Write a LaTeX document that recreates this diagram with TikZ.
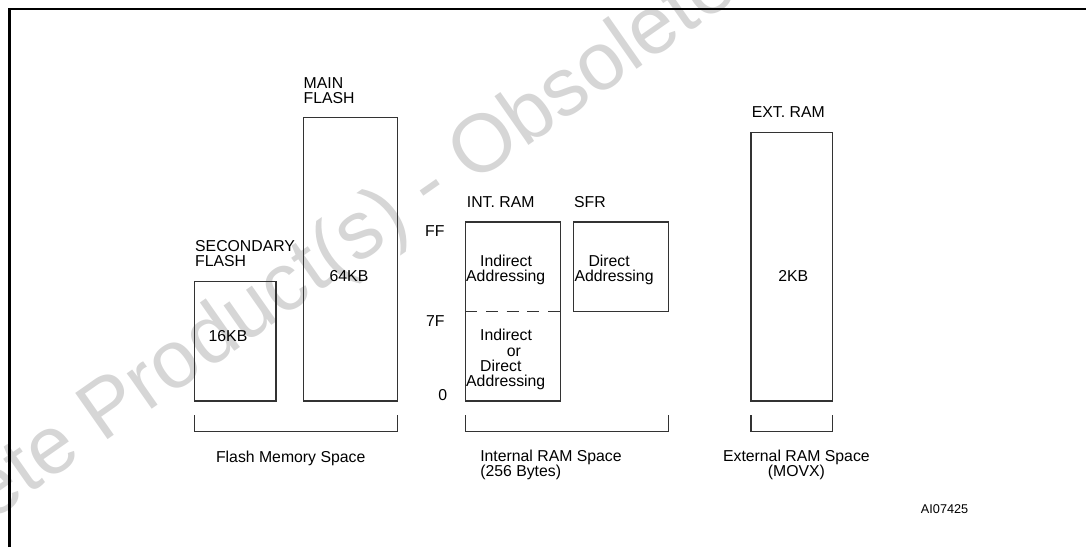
\documentclass[tikz,border=0pt]{standalone}
\usepackage{fontspec}
\setmainfont{Liberation Sans}
\usetikzlibrary{calc}
\begin{document}
\begin{tikzpicture}[x=1pt,y=-1pt,
  box/.style={draw=black!80, line width=1.2pt, inner sep=0pt, outer sep=0pt, anchor=north west},
  brk/.style={draw=black!80, line width=1.1pt},
  lbl/.style={inner sep=0pt, font=\fontsize{15.8}{15.3}\selectfont},
  wm/.style={inner sep=0pt, text=black!16, font=\fontsize{82}{82}\selectfont},
  frame/.style={line width=2.5pt}]
\useasboundingbox (0,0) rectangle (1086,547);
% watermark
\begin{scope}
\clip (0,0) rectangle (1086,547);
\node[wm, rotate=35, anchor=base west] (wmk) at (-185,645) {Obsolete Product(s) - Obsolete Product(s)};
\end{scope}
% frame
\draw[frame] (9.7,547) -- (9.7,9.2) -- (1086,9.2);
% boxes
\node[box, minimum width=81.7pt, minimum height=119.3pt] (sec) at (194.3,281.7) {};
\node[box, minimum width=94.4pt, minimum height=283.3pt] (main) at (303.3,117.7) {};
\node[box, minimum width=95.4pt, minimum height=179pt] (iram) at (465.3,222) {};
\node[box, minimum width=95pt, minimum height=89.7pt] (sfr) at (573.7,222) {};
\node[box, minimum width=81.7pt, minimum height=268.7pt] (eram) at (751,132.3) {};
\draw[draw=black!80, line width=1.1pt, dash pattern=on 12pt off 8.7pt]
  ($(iram.north west)+(0,89.7)$) -- ($(iram.north east)+(0,89.7)$);
% titles
\node[lbl, align=left, anchor=north west] (secT) at (195,240) {SECONDARY\\FLASH};
\node[lbl, align=left, anchor=north west] (mainT) at (303.5,77) {MAIN\\FLASH};
\node[lbl, anchor=west] (iramT) at (466.7,201.7) {INT. RAM};
\node[lbl, anchor=west] (sfrT) at (574,201.7) {SFR};
\node[lbl, anchor=west] (eramT) at (751.7,111.7) {EXT. RAM};
% contents
\node[lbl] (secC) at (228,335.7) {16KB};
\node[lbl] (mainC) at (349,275.7) {64KB};
\node[lbl] (eramC) at (793.3,275.7) {2KB};
\node[lbl, align=left, anchor=north west] (iramU) at (466,255) {\hspace*{14pt}Indirect\\Addressing};
\node[lbl, align=left, anchor=north west] (iramL) at (466,329.3) {\hspace*{14pt}Indirect\\\hspace*{40.7pt}or\\\hspace*{14pt}Direct\\Addressing};
\node[lbl, align=left, anchor=north west] (sfrC) at (574.3,255) {\hspace*{14pt}Direct\\Addressing};
% address marks
\node[lbl, anchor=west] (aFF) at (425,231) {FF};
\node[lbl, anchor=west] (a7F) at (426,321) {7F};
\node[lbl] (a0) at (442.7,395) {0};
% brackets
\draw[brk] ($(sec.south west)+(0,14)$) -- ($(sec.south west)+(0,30.5)$) -| ($(main.south east)+(0,14)$);
\draw[brk] ($(iram.south west)+(0,14)$) -- ($(iram.south west)+(0,30.5)$) -| ($(sfr.south east)+(0,103.3)$);
\draw[brk] ($(eram.south west)+(0,14)$) -- ($(eram.south west)+(0,30.5)$) -| ($(eram.south east)+(0,14)$);
% space labels
\node[lbl, anchor=base] (flashS) at (290.7,462.3) {Flash Memory Space};
\node[lbl, align=left, anchor=north west] (iramS) at (480.1,449.5) {Internal RAM Space\\(256 Bytes)};
\node[lbl, align=center, anchor=north] (eramS) at (796.4,449.5) {External RAM Space\\(MOVX)};
\node[inner sep=0pt, font=\fontsize{12.7}{12.7}\selectfont] (fig) at (944.6,509) {AI07425};
\end{tikzpicture}
\end{document}
